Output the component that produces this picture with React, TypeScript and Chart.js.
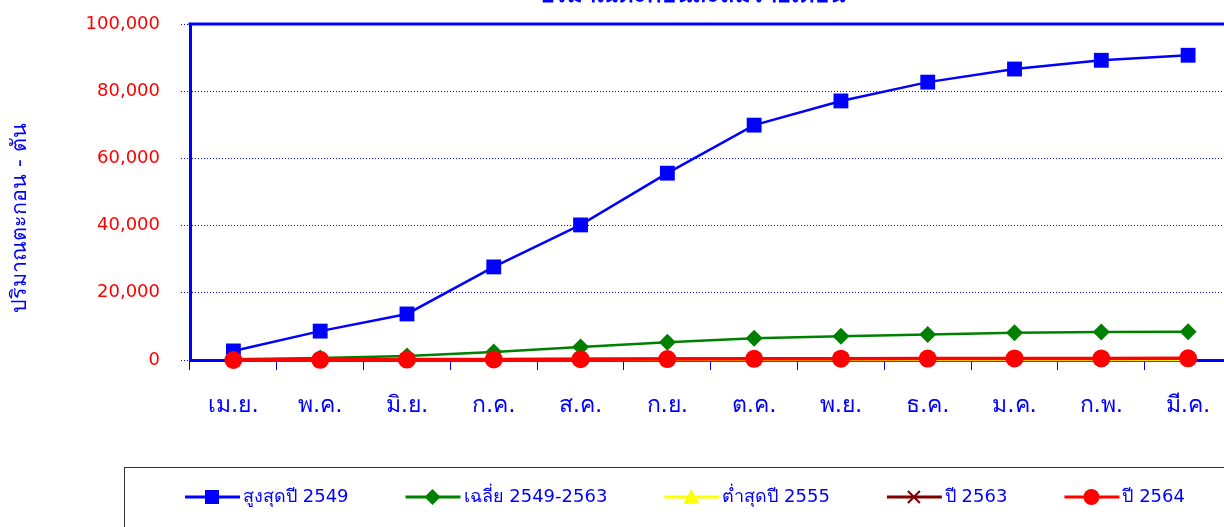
import React, { useEffect, useRef } from "react";
import { Chart, registerables } from "chart.js";

Chart.register(...registerables);

const months = ["เม.ย.", "พ.ค.", "มิ.ย.", "ก.ค.", "ส.ค.", "ก.ย.", "ต.ค.", "พ.ย.", "ธ.ค.", "ม.ค.", "ก.พ.", "มี.ค."];
const max2549 = [2700, 8600, 13700, 27700, 40200, 55600, 69900, 77100, 82700, 86600, 89200, 90700];
const avg2549_2563 = [200, 600, 1200, 2400, 3900, 5300, 6500, 7100, 7600, 8100, 8300, 8400];
const min2555 = [0, 0, 0, 10, 10, 20, 20, 30, 30, 30, 30, 30];
const y2563 = [50, 100, 150, 250, 300, 350, 400, 420, 450, 470, 480, 500];
const y2564 = [0, 60, 120, 180, 230, 290, 340, 380, 420, 460, 480, 500];
const yTicks = [0, 20000, 40000, 60000, 80000, 100000];

const chartTitle = "ปริมาณตะกอนสะสมรายเดือน";
const yTitle = "ปริมาณตะกอน - ตัน";

const FONT = "Tahoma, 'DejaVu Sans', 'Noto Sans', sans-serif";
const BLUE = "#0000FF";

type LegendItem = { label: string; color: string; shape: string; size: number };

const legendItems: LegendItem[] = [
  { label: "สูงสุดปี 2549", color: "#0000FF", shape: "square", size: 7 },
  { label: "เฉลี่ย 2549-2563", color: "#008000", shape: "diamond", size: 8 },
  { label: "ต่ำสุดปี 2555", color: "#FFFF00", shape: "triangle", size: 8 },
  { label: "ปี 2563", color: "#800000", shape: "x", size: 6 },
  { label: "ปี 2564", color: "#FF0000", shape: "circle", size: 8 },
];

function drawMarker(ctx: CanvasRenderingContext2D, shape: string, x: number, y: number, s: number, color: string) {
  ctx.save();
  ctx.fillStyle = color;
  ctx.strokeStyle = color;
  ctx.beginPath();
  if (shape === "square") {
    ctx.rect(x - s, y - s, 2 * s, 2 * s);
    ctx.fill();
  } else if (shape === "diamond") {
    ctx.moveTo(x, y - s);
    ctx.lineTo(x + s, y);
    ctx.lineTo(x, y + s);
    ctx.lineTo(x - s, y);
    ctx.closePath();
    ctx.fill();
  } else if (shape === "triangle") {
    ctx.moveTo(x, y - s);
    ctx.lineTo(x + s, y + s * 0.8);
    ctx.lineTo(x - s, y + s * 0.8);
    ctx.closePath();
    ctx.fill();
  } else if (shape === "x") {
    ctx.lineWidth = 2;
    ctx.moveTo(x - s, y - s);
    ctx.lineTo(x + s, y + s);
    ctx.moveTo(x + s, y - s);
    ctx.lineTo(x - s, y + s);
    ctx.stroke();
  } else {
    ctx.arc(x, y, s, 0, Math.PI * 2);
    ctx.fill();
  }
  ctx.restore();
}

const decorPlugin = {
  id: "decor",
  afterDraw(chart: any) {
    const ctx: CanvasRenderingContext2D = chart.ctx;
    const area = chart.chartArea;
    ctx.save();
    // top border of plot
    ctx.strokeStyle = BLUE;
    ctx.lineWidth = 3;
    ctx.beginPath();
    ctx.moveTo(area.left - 1.5, area.top);
    ctx.lineTo(area.right, area.top);
    ctx.stroke();

    // title (partly above the canvas)
    ctx.fillStyle = BLUE;
    ctx.font = `bold 24px ${FONT}`;
    ctx.textAlign = "center";
    ctx.textBaseline = "alphabetic";
    ctx.fillText(chartTitle, 692, 2);

    // y-axis title
    ctx.save();
    ctx.translate(20, 218);
    ctx.rotate(-Math.PI / 2);
    ctx.font = `21.5px ${FONT}`;
    ctx.textAlign = "center";
    ctx.textBaseline = "middle";
    ctx.fillStyle = BLUE;
    ctx.fillText(yTitle, 0, 0);
    ctx.restore();

    // legend box
    ctx.strokeStyle = "#333333";
    ctx.lineWidth = 1;
    ctx.strokeRect(124.5, 467.5, 1200, 100);

    const ly = 497;
    let x = 185;
    ctx.font = `18px ${FONT}`;
    ctx.textAlign = "left";
    ctx.textBaseline = "middle";
    legendItems.forEach((it) => {
      ctx.strokeStyle = it.color;
      ctx.lineWidth = 3;
      ctx.beginPath();
      ctx.moveTo(x, ly);
      ctx.lineTo(x + 55, ly);
      ctx.stroke();
      drawMarker(ctx, it.shape, x + 27, ly, it.size, it.color);
      ctx.fillStyle = BLUE;
      ctx.fillText(it.label, x + 58, ly);
      x += 58 + ctx.measureText(it.label).width + 57;
    });
    ctx.restore();
  },
};

export default function App() {
  const ref = useRef<HTMLCanvasElement>(null);
  useEffect(() => {
    document.body.style.margin = "0";
    document.body.style.overflow = "hidden";
    const canvas = ref.current!;
    const chart = new Chart(canvas, {
      type: "line",
      data: {
        labels: months,
        datasets: [
          {
            label: "สูงสุดปี 2549",
            data: max2549,
            borderColor: "#0000FF",
            backgroundColor: "#0000FF",
            borderWidth: 2.5,
            pointStyle: "rect",
            pointRadius: 10.5,
            pointBorderWidth: 0,
            order: 4,
            clip: false,
          },
          {
            label: "เฉลี่ย 2549-2563",
            data: avg2549_2563,
            borderColor: "#008000",
            backgroundColor: "#008000",
            borderWidth: 2.5,
            pointStyle: "rectRot",
            pointRadius: 8.5,
            pointBorderWidth: 0,
            order: 3,
            clip: false,
          },
          {
            label: "ต่ำสุดปี 2555",
            data: min2555,
            borderColor: "#FFFF00",
            backgroundColor: "#FFFF00",
            borderWidth: 2.5,
            pointStyle: "triangle",
            pointRadius: 8,
            pointBorderWidth: 0,
            order: 2,
            clip: false,
          },
          {
            label: "ปี 2563",
            data: y2563,
            borderColor: "#800000",
            backgroundColor: "#800000",
            borderWidth: 2.5,
            pointStyle: "crossRot",
            pointRadius: 7,
            pointBorderWidth: 2,
            order: 1,
            clip: false,
          },
          {
            label: "ปี 2564",
            data: y2564,
            borderColor: "#FF0000",
            backgroundColor: "#FF0000",
            borderWidth: 3.5,
            pointStyle: "circle",
            pointRadius: 9,
            pointBorderWidth: 0,
            order: 0,
            clip: false,
          },
        ],
      },
      options: {
        responsive: false,
        animation: false,
        devicePixelRatio: 1,
        layout: { padding: { top: 24, right: 1, bottom: 0, left: 0 } },
        plugins: {
          legend: { display: false },
          title: { display: false },
          tooltip: { enabled: false },
        },
        elements: { line: { tension: 0 } },
        scales: {
          x: {
            type: "category",
            offset: true,
            afterFit: (s: any) => {
              s.height = 167;
              s.paddingLeft = 0;
              s.paddingRight = 0;
            },
            grid: {
              display: true,
              offset: true,
              drawOnChartArea: false,
              drawTicks: true,
              tickLength: 10,
              color: BLUE,
              lineWidth: 1,
            },
            border: { display: true, color: BLUE, width: 3 },
            ticks: {
              color: BLUE,
              font: { family: FONT, size: 23 },
              padding: 22,
              maxRotation: 0,
              autoSkip: false,
            },
          },
          y: {
            min: 0,
            max: 100000,
            afterFit: (s: any) => {
              s.width = 190;
              s.paddingTop = 0;
              s.paddingBottom = 0;
            },
            afterBuildTicks: (s: any) => {
              s.ticks = yTicks.map((v) => ({ value: v }));
            },
            grid: {
              color: BLUE,
              lineWidth: 1,
              tickLength: 9,
              tickBorderDash: [1, 2],
            },
            border: { display: true, color: BLUE, width: 3, dash: [1, 2] },
            ticks: {
              color: "#FF0000",
              font: { family: FONT, size: 18 },
              padding: 21,
              callback: (v: any) => Number(v).toLocaleString("en-US"),
            },
          },
        },
      },
      plugins: [decorPlugin],
    });
    return () => chart.destroy();
  }, []);
  return (
    <div style={{ width: 1224, height: 527, overflow: "hidden" }}>
      <canvas ref={ref} width={1242} height={527} style={{ display: "block" }} />
    </div>
  );
}
